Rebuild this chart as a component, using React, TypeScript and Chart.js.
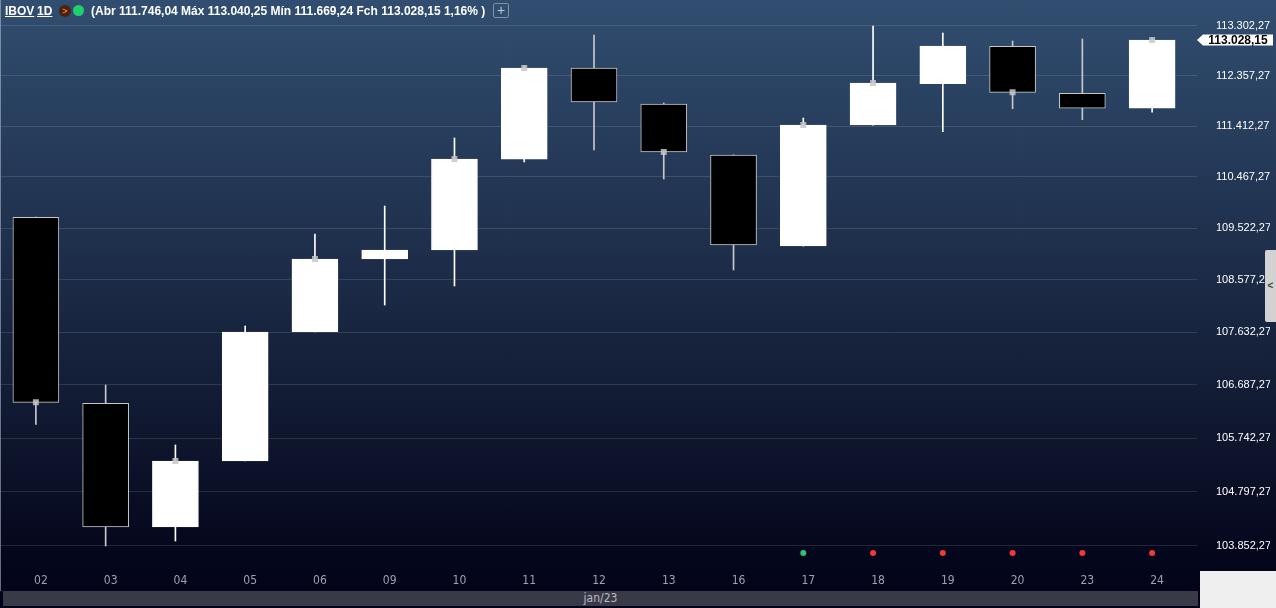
import React, { useEffect, useRef } from "react";
import { Chart, registerables } from "chart.js";

Chart.register(...registerables);

// ---- data ----
const dates = ["02", "03", "04", "05", "06", "09", "10", "11", "12", "13", "16", "17", "18", "19", "20", "23", "24"];
const opens = [109722, 106360, 104180, 105340, 107640, 108960, 109125, 110795, 112499, 111823, 110873, 109197, 111431, 112204, 112908, 112024, 111746.04];
const highs = [109725, 106685, 105620, 107744, 109416, 109930, 111189, 112537, 113122, 111842, 110876, 111561, 113293, 113160, 113009, 113047, 113040.25];
const lows = [105986, 103849, 103935, 105338, 107638, 108123, 108468, 110743, 110966, 110428, 108759, 109195, 111428, 111306, 111735, 111530, 111669.24];
const closes = [106377, 104179, 105337, 107636, 108959, 109123, 110798, 112499, 111861, 110929, 109215, 111431, 112217, 112914, 112042, 111743, 113028.15];
const closeMarks = [true, false, true, false, true, false, true, true, false, true, false, true, true, false, true, false, true];
const signals: (string | null)[] = [null, null, null, null, null, null, null, null, null, null, null, "buy", "sell", "sell", "sell", "sell", "sell"];
const signalLevel = 103727;
const yTicks = [103852.27, 104797.27, 105742.27, 106687.27, 107632.27, 108577.27, 109522.27, 110467.27, 111412.27, 112357.27, 113302.27];
const yMin = 103519;
const yMax = 113787;
const monthLabel = "jan/23";
const headerInfo = "(Abr 111.746,04 Máx 113.040,25 Mín 111.669,24 Fch 113.028,15 1,16% )";

const fmtBR = (v: number) => {
  const [i, d] = v.toFixed(2).split(".");
  return i.replace(/\B(?=(\d{3})+(?!\d))/g, ".") + "," + d;
};

const isBull = (i: number) => closes[i] >= opens[i];

const priceTagPlugin = {
  id: "priceTag",
  afterDraw(chart: any) {
    const { ctx, chartArea, scales } = chart;
    const last = closes[closes.length - 1];
    const y = Math.round(scales.y.getPixelForValue(last));
    const tip = chartArea.right + 10;
    const left = tip + 6;
    const right = left + 70;
    const h = 11;
    ctx.save();
    ctx.fillStyle = "#ffffff";
    ctx.beginPath();
    ctx.moveTo(tip, y);
    ctx.lineTo(left, y - h / 2);
    ctx.lineTo(right, y - h / 2);
    ctx.lineTo(right, y + h / 2);
    ctx.lineTo(left, y + h / 2);
    ctx.closePath();
    ctx.fill();
    ctx.fillStyle = "#000000";
    ctx.font = "bold 12px 'Liberation Sans', Arial, sans-serif";
    ctx.textAlign = "center";
    ctx.textBaseline = "middle";
    ctx.fillText(fmtBR(last), (left + right) / 2, y + 0.5);
    ctx.restore();
  },
};

function CandleChart() {
  const ref = useRef<HTMLCanvasElement | null>(null);
  useEffect(() => {
    if (!ref.current) return;
    const chart = new Chart(ref.current, {
      type: "bar",
      data: {
        labels: dates,
        datasets: [
          {
            type: "line",
            data: signals.map((s) => (s ? signalLevel : null)),
            showLine: false,
            pointStyle: "circle",
            pointRadius: 3,
            pointBorderWidth: 0,
            pointBackgroundColor: signals.map((s) => (s === "buy" ? "#2fc46b" : "#f03a3a")),
            order: 0,
          } as any,
          {
            type: "line",
            data: closes.map((c, i) => (closeMarks[i] ? c : null)),
            showLine: false,
            pointStyle: "rect",
            pointRadius: 4.2,
            pointBorderWidth: 0,
            pointBackgroundColor: "rgba(199,199,199,0.85)",
            order: 1,
          } as any,
          {
            type: "bar",
            data: dates.map((_, i) => [opens[i], closes[i]]),
            backgroundColor: dates.map((_, i) => (isBull(i) ? "#ffffff" : "#000000")),
            borderColor: dates.map((_, i) => (isBull(i) ? "#ffffff" : "#c8c8c8")),
            borderWidth: 1,
            borderSkipped: false,
            barThickness: 46,
            grouped: false,
            order: 2,
          } as any,
          {
            type: "bar",
            data: dates.map((_, i) => [lows[i], highs[i]]),
            backgroundColor: dates.map((_, i) => (isBull(i) ? "#ffffff" : "#c8c8c8")),
            borderWidth: 0,
            barThickness: 1,
            grouped: false,
            order: 3,
          } as any,
        ],
      },
      options: {
        animation: false,
        responsive: false,
        maintainAspectRatio: false,
        events: [],
        layout: { padding: { left: 1, right: 6, top: 0, bottom: 0 }, autoPadding: false },
        plugins: { legend: { display: false }, tooltip: { enabled: false } },
        scales: {
          x: {
            type: "category",
            offset: true,
            grid: { display: false, drawTicks: false },
            border: { display: false },
            ticks: {
              color: "#9ea2ac",
              font: { family: "'Liberation Sans Narrow', 'DejaVu Sans Condensed', sans-serif", size: 12 },
              padding: 9,
              labelOffset: 5,
              maxRotation: 0,
              autoSkip: false,
            },
            afterFit: (s: any) => {
              s.height = 43;
              s.paddingLeft = 0;
              s.paddingRight = 0;
            },
          },
          y: {
            type: "logarithmic",
            position: "right",
            min: yMin,
            max: yMax,
            bounds: "data",
            grid: { color: "rgba(255,255,255,0.12)", lineWidth: 1, drawTicks: true, tickLength: 10, tickColor: "rgba(255,255,255,0.12)" },
            border: { display: false },
            ticks: {
              color: "#ffffff",
              font: { family: "'Liberation Sans', Arial, sans-serif", size: 11 },
              padding: 19,
              autoSkip: false,
              callback: (v: any) => fmtBR(Number(v)),
            },
            afterBuildTicks: (s: any) => {
              s.ticks = yTicks.map((v) => ({ value: v }));
            },
            afterFit: (s: any) => {
              s.width = 83;
              s.paddingTop = 0;
              s.paddingBottom = 0;
            },
          },
        },
      },
      plugins: [priceTagPlugin],
    } as any);
    return () => chart.destroy();
  }, []);
  return <canvas ref={ref} width={1276} height={608} style={{ position: "absolute", left: 0, top: 0, width: 1276, height: 608 }} />;
}

export default function App() {
  const font = "'Liberation Sans', Arial, sans-serif";
  return (
    <div
      style={{
        position: "fixed",
        left: 0,
        top: 0,
        width: 1276,
        height: 608,
        overflow: "hidden",
        background: "linear-gradient(to bottom, #314e70 0%, #1a2843 50%, #04061b 92%, #02031a 100%)",
        fontFamily: font,
      }}
    >
      <div style={{ position: "absolute", left: 0, top: 0, width: 1, height: 591, background: "rgba(185,195,210,0.55)" }} />
      <CandleChart />
      {/* header */}
      <div style={{ position: "absolute", left: 5, top: 4, font: `bold 12px ${font}`, color: "#fff", lineHeight: "14px", textDecoration: "underline" }}>IBOV</div>
      <div style={{ position: "absolute", left: 37, top: 4, font: `bold 12px ${font}`, color: "#fff", lineHeight: "14px", textDecoration: "underline" }}>1D</div>
      <div
        style={{
          position: "absolute",
          left: 59,
          top: 5,
          width: 12,
          height: 12,
          borderRadius: 6,
          background: "#4a2212",
          color: "#ff7a1a",
          font: `bold 9px ${font}`,
          lineHeight: "12px",
          textAlign: "center",
        }}
      >
        {">"}
      </div>
      <div style={{ position: "absolute", left: 73, top: 5, width: 11, height: 11, borderRadius: 6, background: "#1fd06b" }} />
      <div style={{ position: "absolute", left: 91, top: 4, font: `bold 12px ${font}`, color: "#fff", lineHeight: "14px", whiteSpace: "nowrap" }}>{headerInfo}</div>
      <div
        style={{
          position: "absolute",
          left: 493,
          top: 3,
          width: 14,
          height: 13,
          border: "1px solid #7f90a8",
          borderRadius: 2,
          color: "#c0c8d4",
          font: `14px ${font}`,
          lineHeight: "12px",
          textAlign: "center",
        }}
      >
        +
      </div>
      {/* scroll handle */}
      <div
        style={{
          position: "absolute",
          left: 1265,
          top: 250,
          width: 11,
          height: 72,
          background: "#d2d2d2",
          borderRadius: "2px 0 0 2px",
          color: "#444",
          font: `bold 10px ${font}`,
          lineHeight: "72px",
          textAlign: "center",
        }}
      >
        {"<"}
      </div>
      {/* bottom date bar */}
      <div
        style={{
          position: "absolute",
          left: 3,
          top: 591,
          width: 1195,
          height: 15,
          background: "#393a47",
          color: "#b8b9c2",
          font: `12px 'Liberation Sans Narrow', 'DejaVu Sans Condensed', sans-serif`,
          lineHeight: "15px",
          textAlign: "center",
        }}
      >
        {monthLabel}
      </div>
      <div style={{ position: "absolute", left: 1200, top: 571, width: 76, height: 37, background: "#efefef" }} />
    </div>
  );
}
